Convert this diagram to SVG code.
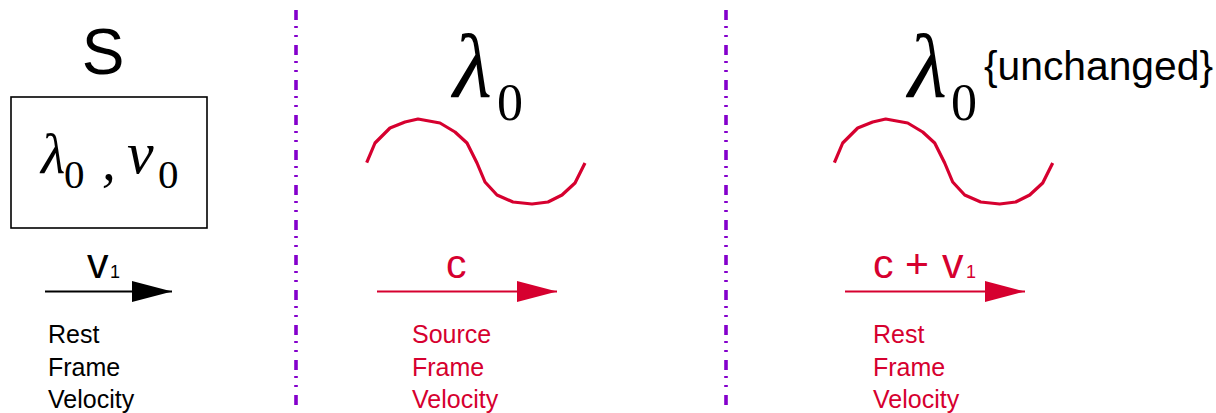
<svg xmlns="http://www.w3.org/2000/svg" width="1216" height="413" viewBox="0 0 1216 413">
<defs>
<style>
.sans{font-family:"Liberation Sans",Arial,sans-serif;}
.mi{font-family:"Liberation Serif","Times New Roman",serif;font-style:italic;}
.mr{font-family:"Liberation Serif","Times New Roman",serif;}
.red{fill:#d6002f;}
.blk{fill:#000;}
.div{stroke:#8400cc;stroke-width:3.6;stroke-dasharray:10 6 2 7 2 8;fill:none;}
.wave{fill:none;stroke:#d6002f;stroke-width:3.2;stroke-linejoin:round;}
</style>
<marker id="ahB" markerWidth="40" markerHeight="21" refX="40" refY="10.5" orient="auto" markerUnits="userSpaceOnUse"><path d="M0,0 L40,10.5 L0,21 Z" fill="#000"/></marker>
<marker id="ahR" markerWidth="40" markerHeight="21" refX="40" refY="10.5" orient="auto" markerUnits="userSpaceOnUse"><path d="M0,0 L40,10.5 L0,21 Z" fill="#d6002f"/></marker>
</defs>
<rect width="1216" height="413" fill="#fff"/>

<g id="dividers">
<line class="div" x1="296" y1="10" x2="296" y2="405"/>
<line class="div" x1="726" y1="10" x2="726" y2="405"/>
</g>

<g id="source">
<text class="sans blk" x="103" y="74" font-size="64" text-anchor="middle">S</text>
<rect x="11" y="97" width="196" height="131" fill="none" stroke="#000" stroke-width="1.6"/>
<text class="mi blk" x="41" y="173" font-size="56">λ</text>
<text class="mr blk" x="64" y="188" font-size="41">0</text>
<text class="mi blk" x="102" y="180" font-size="55">,</text>
<text class="mi blk" x="127" y="173" font-size="60">ν</text>
<text class="mr blk" x="158" y="188" font-size="41">0</text>
</g>

<g id="wave1">
<text class="mi blk" x="453" y="97" font-size="90">λ</text>
<text class="mr blk" x="497" y="120" font-size="52">0</text>
<polyline class="wave" points="366.7,162.7 375,143 390,128 405,122 418,119 440,123 455,132 467,143 477,163 485,182 497,195 513,202 532,204 548,202 562,195 575,183 585,163"/>
</g>

<g id="wave2">
<text class="mi blk" x="908" y="97" font-size="90">λ</text>
<text class="mr blk" x="951" y="120" font-size="52">0</text>
<text class="sans blk" x="984" y="80" font-size="40" textLength="229" lengthAdjust="spacingAndGlyphs">{unchanged}</text>
<polyline class="wave" transform="translate(467.7,0)" points="366.7,162.7 375,143 390,128 405,122 418,119 440,123 455,132 467,143 477,163 485,182 497,195 513,202 532,204 548,202 562,195 575,183 585,163"/>
</g>

<g id="connectors">
<line x1="45" y1="291.5" x2="172" y2="291.5" stroke="#000" stroke-width="2" marker-end="url(#ahB)"/>
<line x1="377" y1="291.5" x2="557" y2="291.5" stroke="#d6002f" stroke-width="2" marker-end="url(#ahR)"/>
<line x1="845" y1="291.5" x2="1025" y2="291.5" stroke="#d6002f" stroke-width="2" marker-end="url(#ahR)"/>
</g>

<g id="label1">
<text class="sans blk" x="87" y="278" font-size="43">v</text>
<text class="sans blk" x="110" y="278" font-size="18">1</text>
<text class="sans blk" font-size="25"><tspan x="48" y="343">Rest</tspan><tspan x="48" y="376">Frame</tspan><tspan x="48" y="408">Velocity</tspan></text>
</g>

<g id="label2">
<text class="sans red" x="446" y="278" font-size="41">c</text>
<text class="sans red" font-size="25"><tspan x="412" y="343">Source</tspan><tspan x="412" y="376">Frame</tspan><tspan x="412" y="408">Velocity</tspan></text>
</g>

<g id="label3">
<text class="sans red" x="873" y="278" font-size="41">c</text>
<text class="sans red" x="905" y="278" font-size="41">+</text>
<text class="sans red" x="942" y="278" font-size="43">v</text>
<text class="sans red" x="966" y="278" font-size="18">1</text>
<text class="sans red" font-size="25"><tspan x="873" y="343">Rest</tspan><tspan x="873" y="376">Frame</tspan><tspan x="873" y="408">Velocity</tspan></text>
</g>
</svg>
